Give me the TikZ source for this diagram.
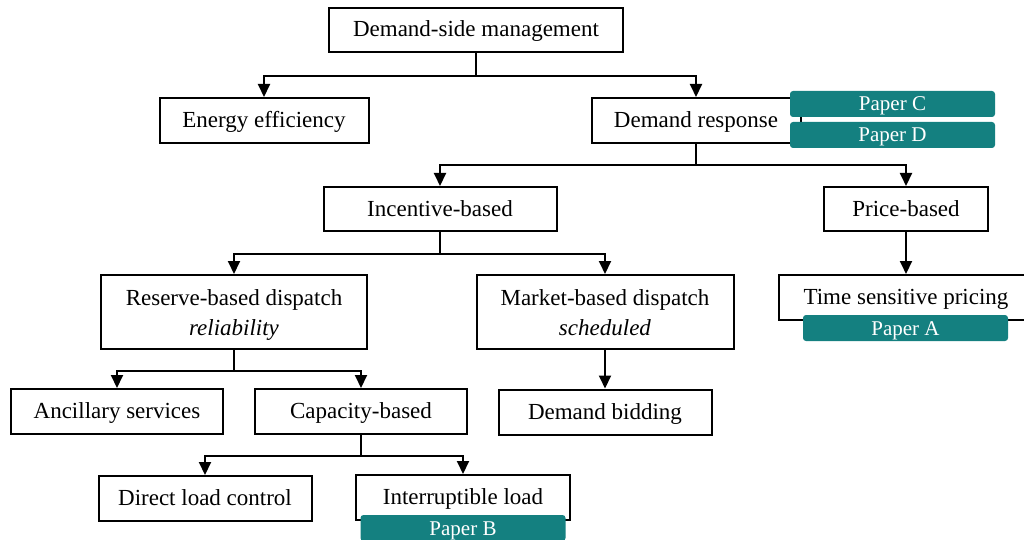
\documentclass[tikz,border=0pt]{standalone}
\usepackage{fontspec}
\setmainfont{Liberation Serif}
\usepackage{tikz}
\usetikzlibrary{arrows.meta}
\definecolor{paperteal}{RGB}{20,128,128}
\tikzstyle{block}=[rectangle, draw=black, line width=2pt, fill=white, minimum width=212pt, minimum height=45pt, text centered, align=center, inner sep=0pt, text height=17pt, text depth=3pt, font=\fontsize{23}{30}\selectfont]
\tikzstyle{twoline}=[minimum height=74pt, text height=49pt, text depth=3pt]
\tikzstyle{paper}=[rectangle, rounded corners=3pt, fill=paperteal, text=white, minimum width=205pt, minimum height=26pt, inner sep=0pt, text height=16pt, text depth=2pt, font=\fontsize{21}{24}\selectfont]
\tikzstyle{arrow}=[line width=2pt, -{Triangle[length=13pt, width=12pt]}]

\begin{document}
\begin{tikzpicture}[x=1pt, y=-1pt]
	\useasboundingbox (0,0) rectangle (1024,540);

		\path (476,30) node[block, minimum width=294pt, minimum height=44pt] (dsm) {Demand-side management}
        (264,120.5) node[block, minimum width=209pt] (ee) {Energy efficiency}
        (696,120.5) node[block, minimum width=209pt] (dr) {Demand response}
        (440,209) node[block, minimum width=233pt, minimum height=44pt] (ib) {Incentive-based}
        (906,209) node[block, minimum width=164pt, minimum height=44pt] (pb) {Price-based}
        (234,312) node[block, twoline, minimum width=266pt] (rd) {Reserve-based dispatch\\\textit{reliability}}
        (605,312) node[block, twoline, minimum width=257pt] (md) {Market-based dispatch\\\textit{scheduled}}
        (906,297.5) node[block, minimum width=254pt] (tsp) {Time sensitive pricing}
        (117,411.5) node[block] (as) {Ancillary services}
        (361,411.5) node[block] (cb) {Capacity-based}
        (605,412) node[block, minimum width=213pt] (db) {Demand bidding}
        (205,498.5) node[block, minimum width=213pt] (dlc) {Direct load control}
        (463,497.5) node[block, minimum width=214pt] (il) {Interruptible load};

		\draw[arrow] (dsm.south) -- ++(0,23) -| (ee);
		\draw[arrow] (dsm.south) -- ++(0,23) -| (dr);
		\draw[arrow] (dr.south) -- ++(0,21) -| (ib);
		\draw[arrow] (dr.south) -- ++(0,21) -| (pb);
		\draw[arrow] (ib.south) -- ++(0,22) -| (rd);
		\draw[arrow] (ib.south) -- ++(0,22) -| (md);
		\draw[arrow] (pb) -- (tsp);
		\draw[arrow] (md) -- (db);
		\draw[arrow] (rd.south) -- ++(0,21) -| (as);
		\draw[arrow] (rd.south) -- ++(0,21) -| (cb);
		\draw[arrow] (cb.south) -- ++(0,21) -| (dlc);
		\draw[arrow] (cb.south) -- ++(0,21) -| (il);

		\path (892.5,104) node[paper] (pc) {Paper C}
        (892.5,135) node[paper] (pd) {Paper D}
        (905.5,328) node[paper] (pa) {Paper A}
        (463,528) node[paper] (pbb) {Paper B};
\end{tikzpicture}
\end{document}
